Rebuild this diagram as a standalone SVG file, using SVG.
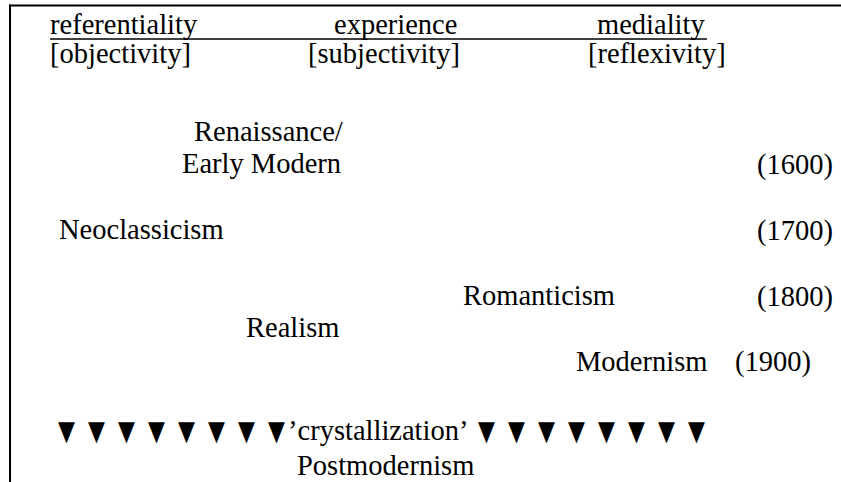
<svg xmlns="http://www.w3.org/2000/svg" width="841" height="482" viewBox="0 0 841 482">
<style>
.t{font-family:"Liberation Serif","Times New Roman",serif;font-size:28.5px;fill:#000}
.tri{font-family:"DejaVu Sans",sans-serif;font-size:22px;fill:#000}
.ln{stroke:#000;fill:none}
</style>
<rect width="841" height="482" fill="#fff"/>
<g id="frame">
<line class="ln" x1="9" y1="5.5" x2="841" y2="5.5" stroke-width="2"/>
<line class="ln" x1="10" y1="4.5" x2="10" y2="482" stroke-width="2"/>
</g>
<g id="header">
<line class="ln" x1="50" y1="39" x2="707" y2="39" stroke-width="1.5"/>
<g id="referentiality"><text class="t" x="50" y="34">referentiality</text><text class="t" x="50" y="63">[objectivity]</text></g>
<g id="experience"><text class="t" x="334" y="34">experience</text><text class="t" x="308" y="63">[subjectivity]</text></g>
<g id="mediality"><text class="t" x="597" y="34">mediality</text><text class="t" x="588" y="63">[reflexivity]</text></g>
</g>
<g id="renaissance"><text class="t" x="194" y="141">Renaissance/</text><text class="t" x="182" y="173">Early Modern</text></g>
<g id="y1600"><text class="t" x="757" y="174">(1600)</text></g>
<g id="neoclassicism"><text class="t" x="59" y="239">Neoclassicism</text></g>
<g id="y1700"><text class="t" x="757" y="240">(1700)</text></g>
<g id="romanticism"><text class="t" x="463" y="305">Romanticism</text></g>
<g id="y1800"><text class="t" x="757" y="306">(1800)</text></g>
<g id="realism"><text class="t" x="246" y="337">Realism</text></g>
<g id="modernism"><text class="t" x="576" y="371">Modernism</text></g>
<g id="y1900"><text class="t" x="735" y="371">(1900)</text></g>
<g id="crystallization">
<text class="tri" transform="translate(0,440) scale(1,1.25)" x="58 88 118 148 178 208 238 268" y="0">▼▼▼▼▼▼▼▼</text>
<text class="t" x="288" y="440">’crystallization’</text>
<text class="tri" transform="translate(0,440) scale(1,1.25)" x="478 508 538 568 598 628 658 688" y="0">▼▼▼▼▼▼▼▼</text>
</g>
<g id="postmodernism"><text class="t" x="297" y="475">Postmodernism</text></g>
<g id="connectors"/>
</svg>
